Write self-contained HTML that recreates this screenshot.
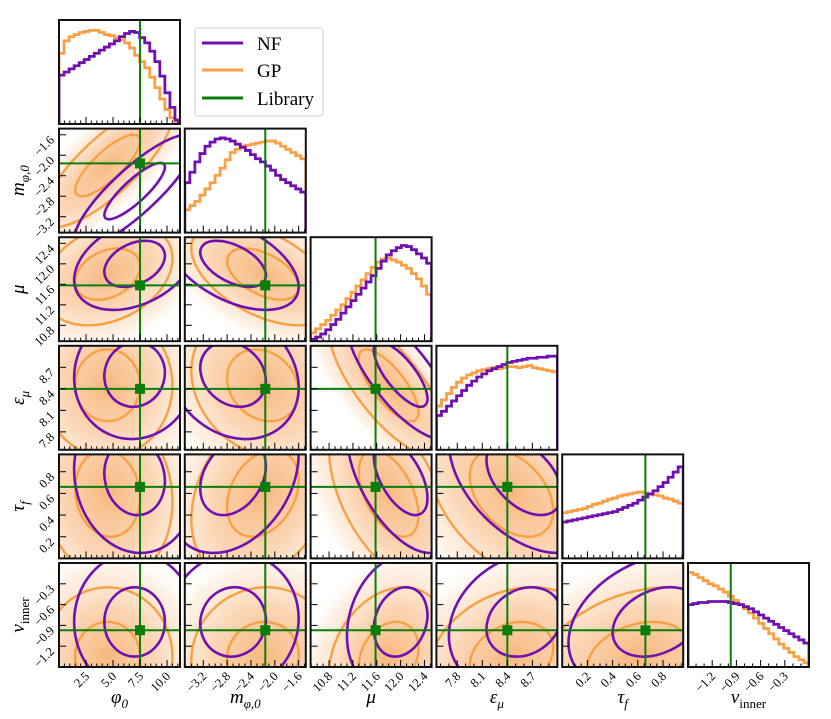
<!DOCTYPE html>
<html><head><meta charset="utf-8"><style>
html,body{margin:0;padding:0;background:#fff;width:831px;height:719px;overflow:hidden;}
svg{display:block;font-family:"Liberation Serif","DejaVu Serif",serif;}
</style></head><body>
<svg id="fig" width="831" height="719" viewBox="0 0 831 719" xmlns="http://www.w3.org/2000/svg">
<defs>
<radialGradient id="dens" cx="50%" cy="50%" r="50%">
<stop offset="0%" stop-color="#f5a052" stop-opacity="0.75"/>
<stop offset="45%" stop-color="#f8b57a" stop-opacity="0.55"/>
<stop offset="80%" stop-color="#fcd9b8" stop-opacity="0.35"/>
<stop offset="100%" stop-color="#fff" stop-opacity="0"/>
</radialGradient>
</defs>
<g id="plots"></g>
<g id="legend">
<rect x="195" y="28" width="128" height="88" rx="3" fill="#fff" stroke="#d0d0d0" stroke-width="1"/>
<g><line x1="202" y1="43" x2="243" y2="43" stroke="#7010b0" stroke-width="3"/><text x="257" y="50" font-size="19">NF</text></g>
<g><line x1="202" y1="70" x2="243" y2="70" stroke="#f9a045" stroke-width="3"/><text x="257" y="77" font-size="19">GP</text></g>
<g><line x1="202" y1="98" x2="243" y2="98" stroke="#0a7d0a" stroke-width="3"/><text x="257" y="105" font-size="19">Library</text></g>
</g>
</svg>
<script>
const ranges=[[0,11.2],[-3.51,-1.48],[10.49,12.52],[7.55,9.0],[0.0,0.96],[-1.5,0.0]];
const truth=[7.5,-2.16,11.58,8.4,0.66,-0.97];
const majorTicks=[[2.5,5,7.5,10],[-3.2,-2.8,-2.4,-2.0,-1.6],[10.8,11.2,11.6,12.0,12.4],[7.8,8.1,8.4,8.7],[0.2,0.4,0.6,0.8],[-1.2,-0.9,-0.6,-0.3]];
const tickLabels=[["2.5","5.0","7.5","10.0"],["−3.2","−2.8","−2.4","−2.0","−1.6"],["10.8","11.2","11.6","12.0","12.4"],["7.8","8.1","8.4","8.7"],["0.2","0.4","0.6","0.8"],["−1.2","−0.9","−0.6","−0.3"]];
const minorStep=[0.5,0.1,0.1,0.1,0.05,0.1];
const nfMean=[7.0,-2.7,12.0,8.6,0.75,-0.85];
const nfSd=[2.8,0.55,0.45,0.45,0.35,0.5];
const gpMean=[4.5,-2.2,11.8,8.45,0.6,-1.35];
const gpSd=[3.0,0.6,0.5,0.5,0.4,0.5];
const corrNF=[[0,0.85,0.35,0.05,-0.1,0.0],[0,0,-0.5,-0.2,0.3,0.05],[0,0,0,-0.75,-0.55,0.2],[0,0,0,0,-0.45,0.2],[0,0,0,0,0,0.3],[0,0,0,0,0,0]];
const corrGP=[[0,0.8,0.3,0.0,-0.1,0.0],[0,0,-0.5,-0.2,0.3,0.05],[0,0,0,-0.75,-0.5,0.25],[0,0,0,0,-0.4,0.25],[0,0,0,0,0,0.3],[0,0,0,0,0,0]];
const histNF=[
[0.47,0.5,0.53,0.56,0.59,0.62,0.65,0.68,0.71,0.74,0.77,0.8,0.84,0.87,0.89,0.88,0.83,0.78,0.7,0.6,0.46,0.3,0.16,0.04],
[0.48,0.58,0.68,0.76,0.83,0.87,0.9,0.91,0.9,0.88,0.85,0.82,0.79,0.75,0.71,0.68,0.64,0.6,0.55,0.51,0.48,0.45,0.42,0.39],
[0.02,0.04,0.07,0.11,0.16,0.21,0.27,0.33,0.39,0.45,0.51,0.57,0.63,0.7,0.77,0.83,0.87,0.9,0.92,0.91,0.88,0.84,0.8,0.75],
[0.33,0.37,0.42,0.47,0.52,0.57,0.62,0.66,0.7,0.73,0.76,0.78,0.8,0.82,0.84,0.85,0.86,0.87,0.88,0.88,0.89,0.89,0.9,0.9],
[0.35,0.36,0.37,0.38,0.39,0.4,0.41,0.42,0.43,0.44,0.45,0.47,0.49,0.51,0.53,0.56,0.59,0.62,0.65,0.69,0.73,0.78,0.83,0.88],
[0.6,0.61,0.62,0.62,0.63,0.63,0.63,0.63,0.62,0.61,0.6,0.58,0.56,0.53,0.5,0.47,0.44,0.41,0.38,0.35,0.32,0.29,0.26,0.23]];
const histGP=[
[0.68,0.8,0.84,0.86,0.88,0.89,0.9,0.9,0.88,0.86,0.85,0.83,0.81,0.78,0.73,0.66,0.6,0.54,0.45,0.35,0.24,0.14,0.06,0.01],
[0.22,0.26,0.3,0.36,0.42,0.48,0.55,0.62,0.7,0.77,0.8,0.83,0.84,0.85,0.86,0.87,0.88,0.88,0.86,0.83,0.8,0.77,0.74,0.71],
[0.08,0.12,0.16,0.2,0.25,0.3,0.35,0.41,0.47,0.53,0.59,0.65,0.71,0.76,0.79,0.8,0.78,0.76,0.73,0.7,0.65,0.6,0.53,0.45],
[0.42,0.48,0.54,0.6,0.65,0.69,0.72,0.74,0.76,0.77,0.78,0.79,0.78,0.79,0.8,0.8,0.79,0.8,0.81,0.79,0.78,0.77,0.76,0.75],
[0.44,0.45,0.46,0.47,0.48,0.5,0.52,0.53,0.55,0.57,0.58,0.6,0.61,0.62,0.63,0.64,0.63,0.62,0.61,0.6,0.58,0.57,0.55,0.53],
[0.91,0.89,0.86,0.83,0.8,0.78,0.75,0.72,0.68,0.64,0.6,0.56,0.52,0.47,0.42,0.37,0.32,0.27,0.22,0.18,0.14,0.1,0.07,0.04]];
const varNames=['phi0','m-phi0','mu','eps-mu','tau-f','nu-inner'];

const NS='http://www.w3.org/2000/svg';
const X0=59,PX=125.8,W=121,Y0=20,PY=108.6,H=104;
const NF='#7010b0',GP='#f9a045',GR='#0a7d0a';
const root=document.getElementById('plots');
function mk(tag,attrs,parent){const e=document.createElementNS(NS,tag);for(const k in attrs)e.setAttribute(k,attrs[k]);(parent||root).appendChild(e);return e;}
function sx(v,c){const r=ranges[c];return X0+c*PX+(v-r[0])/(r[1]-r[0])*W;}
function sy(v,rw){const r=ranges[rw];return Y0+rw*PY+H-(v-r[0])/(r[1]-r[0])*H;}

function ellipse(g,c,rw,mean,sd,rho,k,attrs,name){
  const a1=sd[c]*W/(ranges[c][1]-ranges[c][0]);
  const b1=sd[rw]*H/(ranges[rw][1]-ranges[rw][0]);
  const A=a1*a1,D=b1*b1,B=-rho*a1*b1;
  const t=Math.sqrt(((A-D)/2)**2+B*B);
  const l1=(A+D)/2+t,l2=Math.max((A+D)/2-t,1);
  const ang=0.5*Math.atan2(2*B,A-D)*180/Math.PI;
  const cx=sx(mean[c],c),cy=sy(mean[rw],rw);
  const e=mk('ellipse',Object.assign({cx:cx,cy:cy,rx:k*Math.sqrt(l1),ry:k*Math.sqrt(l2),transform:`rotate(${ang} ${cx} ${cy})`},attrs),g);
  
  
  return e;
}

function ticks(g,c,rw,diag){
  const x=X0+c*PX,y=Y0+rw*PY;
  const r=ranges[c];
  let start=Math.ceil(r[0]/minorStep[c]-1e-6);
  for(let n=start;n*minorStep[c]<=r[1]+1e-9;n++){
    const v=n*minorStep[c];const px=sx(v,c);
    const isMaj=majorTicks[c].some(m=>Math.abs(m-v)<1e-6);
    mk('line',{x1:px,x2:px,y1:y+H,y2:y+H-(isMaj?7:3.5),stroke:'#000','stroke-width':1},g);
  }
  if(!diag){
    majorTicks[rw].forEach(v=>{const py=sy(v,rw);mk('line',{x1:x,x2:x+7,y1:py,y2:py,stroke:'#000','stroke-width':1},g);});
  }
}

for(let rw=0;rw<6;rw++){
  for(let c=0;c<=rw;c++){
    const x=X0+c*PX,y=Y0+rw*PY;
    const g=mk('g',{});
    
    
    const cid=`clip${rw}${c}`;
    const cp=mk('clipPath',{id:cid},g);mk('rect',{x:x,y:y,width:W,height:H},cp);
    const inner=mk('g',{'clip-path':`url(#${cid})`},g);
    if(c===rw){
      const bw=W/histNF[c].length;
      [[histGP[c],GP,'gp'],[histNF[c],NF,'nf']].forEach(([vals,col,nm])=>{
        let d=`M${x},${y+H}`;
        vals.forEach((v,i)=>{const yy=y+H*(1-v);d+=`L${x+i*bw},${yy}L${x+(i+1)*bw},${yy}`;});
        d+=`L${x+W},${y+H}`;
        const p=mk('path',{d:d,fill:'none',stroke:col,'stroke-width':2.8},inner);
        
        
      });
      const tl=mk('line',{x1:sx(truth[c],c),x2:sx(truth[c],c),y1:y,y2:y+H,stroke:GR,'stroke-width':2},inner);
      
      
      ticks(g,c,rw,true);
    } else {
      ellipse(inner,c,rw,gpMean,gpSd,corrGP[c][rw],3.2,{fill:'url(#dens)'},'gp-density');
      ellipse(inner,c,rw,gpMean,gpSd,corrGP[c][rw],1,{fill:'none',stroke:GP,'stroke-width':2.4},'gp-contour-1sigma');
      ellipse(inner,c,rw,gpMean,gpSd,corrGP[c][rw],2,{fill:'none',stroke:GP,'stroke-width':2.4},'gp-contour-2sigma');
      ellipse(inner,c,rw,nfMean,nfSd,corrNF[c][rw],1,{fill:'none',stroke:NF,'stroke-width':2.6},'nf-contour-1sigma');
      ellipse(inner,c,rw,nfMean,nfSd,corrNF[c][rw],2,{fill:'none',stroke:NF,'stroke-width':2.6},'nf-contour-2sigma');
      const tx=sx(truth[c],c),ty=sy(truth[rw],rw);
      const l1=mk('line',{x1:tx,x2:tx,y1:y,y2:y+H,stroke:GR,'stroke-width':2},inner);
      
      
      const l2=mk('line',{x1:x,x2:x+W,y1:ty,y2:ty,stroke:GR,'stroke-width':2},inner);
      
      
      const m=mk('rect',{x:tx-5,y:ty-5,width:10,height:10,fill:GR},inner);
      
      
      ticks(g,c,rw,false);
    }
    const fr=mk('rect',{x:x,y:y,width:W,height:H,fill:'none',stroke:'#111','stroke-width':2},g);
    
    
    if(rw===5){
      majorTicks[c].forEach((v,i)=>{const px=sx(v,c);const t=mk('text',{x:px+4,y:y+H+10,'font-size':12.5,'text-anchor':'end',transform:`rotate(-45 ${px+4} ${y+H+10})`},g);t.textContent=tickLabels[c][i];
        
        });
    }
    if(c===0&&rw>0){
      majorTicks[rw].forEach((v,i)=>{const py=sy(v,rw);const t=mk('text',{x:x-4,y:py+6,'font-size':12.5,'text-anchor':'end',transform:`rotate(-45 ${x-4} ${py+6})`},g);t.textContent=tickLabels[rw][i];
        
        });
    }
  }
}

(function(){
const svg=document.getElementById('fig');
const labels=[['φ','0'],['m','φ,0'],['μ',''],['ε','μ'],['τ','f'],['ν','inner']];
labels.forEach((l,i)=>{
  const t=document.createElementNS(NS,'text');
  t.setAttribute('x',X0+i*PX+W/2);t.setAttribute('y',703);t.setAttribute('font-size',19);t.setAttribute('text-anchor','middle');t.setAttribute('font-style','italic');
  t.innerHTML=`${l[0]}<tspan font-size="13" font-style="${l[1]==='inner'?'normal':'italic'}" dy="5">${l[1]}</tspan>`;
  
  
  svg.appendChild(t);
  if(i>0){
    const cy=Y0+i*PY+H/2;
    const u=document.createElementNS(NS,'text');
    u.setAttribute('x',0);u.setAttribute('y',0);u.setAttribute('font-size',19);u.setAttribute('text-anchor','middle');u.setAttribute('font-style','italic');
    u.setAttribute('transform',`translate(24 ${cy}) rotate(-90)`);
    u.innerHTML=`${l[0]}<tspan font-size="13" font-style="${l[1]==='inner'?'normal':'italic'}" dy="5">${l[1]}</tspan>`;
    
    
    svg.appendChild(u);
  }
});
svg.appendChild(document.getElementById('legend'));
})();
</script>
</body></html>
